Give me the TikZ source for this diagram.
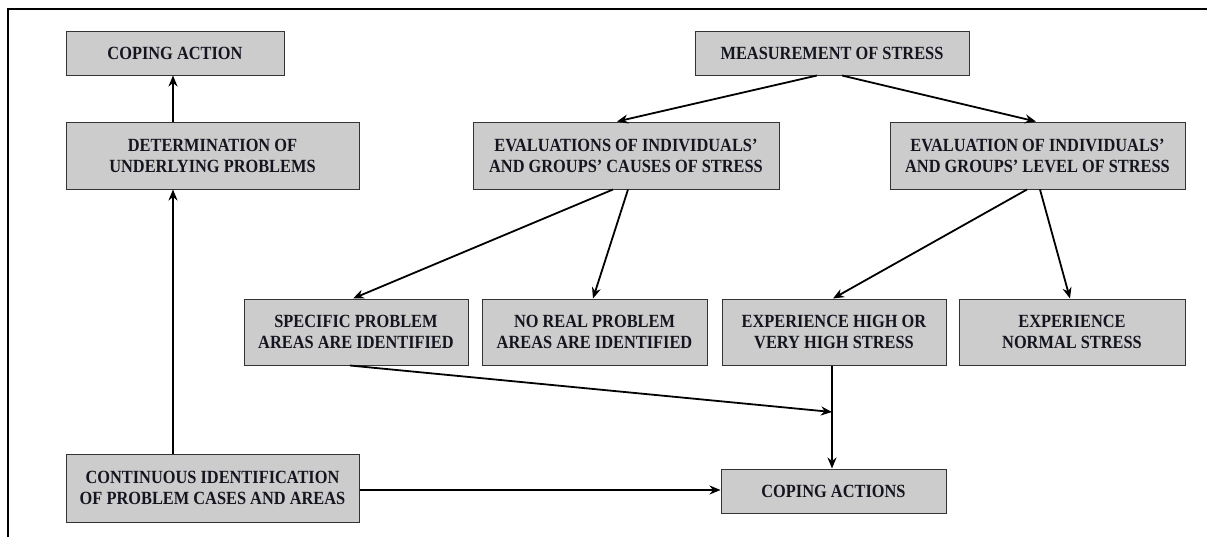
\documentclass[tikz,border=0pt]{standalone}
\usepackage{fontspec}
\setmainfont{Liberation Serif}[FakeStretch=0.88]
\usetikzlibrary{arrows.meta}
\definecolor{boxfill}{HTML}{CCCCCC}
\definecolor{boxline}{HTML}{333333}
\definecolor{inkc}{HTML}{151520}
\begin{document}
\begin{tikzpicture}[x=0.5pt,y=-0.5pt,
  stagebox/.style={draw=boxline,line width=0.5pt,fill=boxfill,text=inkc,
    inner sep=0pt,align=center,
    font=\fontsize{9.3pt}{10.5pt}\selectfont\bfseries},
  link/.style={line width=0.9pt,draw=black,
    -{Stealth[length=5.5pt,width=4.5pt]}}]
\useasboundingbox (0,0) rectangle (1207,537);
% open frame on the left and top
\draw[line width=1pt] (8,537) -- (8,9) -- (1207,9);

% boxes
\node[stagebox,minimum width=109pt,minimum height=22pt] (ca) at (175,53) {COPING ACTION};
\node[stagebox,minimum width=146.5pt,minimum height=33.5pt] (det) at (212.5,155.5) {DETERMINATION OF\\UNDERLYING PROBLEMS};
\node[stagebox,minimum width=137pt,minimum height=22pt] (ms) at (832,53) {MEASUREMENT OF STRESS};
\node[stagebox,minimum width=153pt,minimum height=33.5pt] (ec) at (626,155.5) {EVALUATIONS OF INDIVIDUALS'\\AND GROUPS' CAUSES OF STRESS};
\node[stagebox,minimum width=147.5pt,minimum height=33.5pt] (el) at (1037.5,155.5) {EVALUATION OF INDIVIDUALS'\\AND GROUPS' LEVEL OF STRESS};
\node[stagebox,minimum width=112pt,minimum height=33pt] (sp) at (356,332) {SPECIFIC PROBLEM\\AREAS ARE IDENTIFIED};
\node[stagebox,minimum width=112.5pt,minimum height=33pt] (nr) at (594.5,332) {NO REAL PROBLEM\\AREAS ARE IDENTIFIED};
\node[stagebox,minimum width=112pt,minimum height=33pt] (eh) at (834,332) {EXPERIENCE HIGH OR\\VERY HIGH STRESS};
\node[stagebox,minimum width=113pt,minimum height=33pt] (en) at (1072,332) {EXPERIENCE\\NORMAL STRESS};
\node[stagebox,minimum width=112.5pt,minimum height=22pt] (cas) at (833.5,491) {COPING ACTIONS};
\node[stagebox,minimum width=146.5pt,minimum height=34pt] (ci) at (212.5,488) {CONTINUOUS IDENTIFICATION\\OF PROBLEM CASES AND AREAS};

% helper points
\coordinate (vx) at (173,0);
\coordinate (jn) at (832,412);

% connectors
\draw[link] (det.north -| vx) -- (ca.south -| vx);
\draw[link] (ci.north -| vx) -- (det.south -| vx);
\draw[link] ([xshift=-7.5pt]ms.south) -- ([xshift=-4.5pt]ec.north);
\draw[link] ([xshift=5pt]ms.south) -- ([xshift=-0.75pt]el.north);
\draw[link] ([xshift=-6.5pt]ec.south) -- ([xshift=-1.5pt]sp.north);
\draw[link] ([xshift=1pt]ec.south) -- ([xshift=-0.75pt]nr.north);
\draw[link] ([xshift=-5.25pt]el.south) -- ([xshift=-0.5pt]eh.north);
\draw[link] ([xshift=1.25pt]el.south) -- ([xshift=-1pt]en.north);
\draw[link] ([xshift=-3pt]sp.south) -- (jn);
\draw[link] (eh.south -| jn) -- (cas.north -| jn);
\draw[link] (ci.east |- 0,490) -- (cas.west |- 0,490);
\end{tikzpicture}
\end{document}
